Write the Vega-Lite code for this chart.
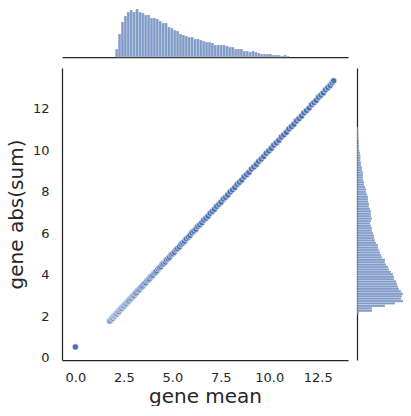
{
  "$schema": "https://vega.github.io/schema/vega-lite/v6.json",
  "padding": {"left": 6, "top": 7, "right": 0, "bottom": 0},
  "config": {
    "view": {"stroke": null},
    "font": "DejaVu Sans",
    "axis": {
      "grid": false,
      "ticks": false,
      "tickSize": 0,
      "domainColor": "#262626",
      "domainWidth": 1.25,
      "labelColor": "#262626",
      "titleColor": "#262626",
      "labelFontSize": 13,
      "titleFontSize": 20,
      "titleFontWeight": "normal",
      "labelPadding": 13
    }
  },
  "columns": 2,
  "align": "each",
  "spacing": {"row": 10, "column": 8},
  "concat": [
    {
      "width": 286,
      "height": 50,
      "data": {"name": "xhist"},
      "mark": {"type": "bar", "orient": "vertical", "fill": "#4c72b0", "fillOpacity": 0.7, "stroke": "#ffffff", "strokeWidth": 0.5, "strokeOpacity": 0.5},
      "encoding": {
        "x": {"field": "lo", "type": "quantitative", "scale": {"domain": [-0.69, 14.06], "nice": false, "zero": false},
              "axis": {"labels": false, "title": null, "domain": true}},
        "x2": {"field": "hi"},
        "y": {"field": "n", "type": "quantitative", "scale": {"domain": [0, 50], "nice": false}, "axis": null},
        "y2": {"datum": 0}
      }
    },
    {
      "width": 50,
      "height": 50,
      "data": {"values": [{}]},
      "mark": {"type": "point", "opacity": 0}
    },
    {
      "width": 286,
      "height": 292,
      "data": {"name": "pts"},
      "mark": {"type": "circle", "size": 40, "fill": "#4c72b0", "fillOpacity": 1, "stroke": "#ffffff", "strokeWidth": 0.6},
      "encoding": {
        "x": {"field": "m", "type": "quantitative", "scale": {"domain": [-0.69, 14.06], "nice": false, "zero": false},
              "axis": {"title": "gene mean", "values": [0, 2.5, 5, 7.5, 10, 12.5], "format": ".1f", "titlePadding": 2, "labelPadding": 11}},
        "y": {"field": "s", "type": "quantitative", "scale": {"domain": [-0.1, 13.97], "nice": false, "zero": false},
              "axis": {"title": "gene abs(sum)", "values": [0, 2, 4, 6, 8, 10, 12], "titlePadding": 6}}
      }
    },
    {
      "width": 50,
      "height": 292,
      "data": {"name": "yhist"},
      "mark": {"type": "bar", "orient": "horizontal", "fill": "#4c72b0", "fillOpacity": 0.7, "stroke": "#ffffff", "strokeWidth": 0.5, "strokeOpacity": 0.5},
      "encoding": {
        "y": {"field": "lo", "type": "quantitative", "scale": {"domain": [-0.1, 13.97], "nice": false, "zero": false},
              "axis": {"labels": false, "title": null, "domain": true}},
        "y2": {"field": "hi"},
        "x": {"field": "n", "type": "quantitative", "scale": {"domain": [0, 50], "nice": false}, "axis": null}
      }
    }
  ],
  "datasets": {
    "pts": [
      {"m": 0.0, "s": 0.53},
      {"m": 1.77, "s": 1.78}, {"m": 1.82, "s": 1.81}, {"m": 1.86, "s": 1.88}, {"m": 1.9, "s": 1.91}, {"m": 1.93, "s": 1.92},
      {"m": 1.97, "s": 1.99}, {"m": 2.0, "s": 2.02}, {"m": 2.04, "s": 2.03}, {"m": 2.07, "s": 2.09}, {"m": 2.11, "s": 2.12},
      {"m": 2.14, "s": 2.13}, {"m": 2.18, "s": 2.2}, {"m": 2.21, "s": 2.22}, {"m": 2.25, "s": 2.24}, {"m": 2.29, "s": 2.31},
      {"m": 2.33, "s": 2.33}, {"m": 2.36, "s": 2.38}, {"m": 2.4, "s": 2.39}, {"m": 2.44, "s": 2.46}, {"m": 2.48, "s": 2.48},
      {"m": 2.52, "s": 2.51}, {"m": 2.56, "s": 2.58}, {"m": 2.6, "s": 2.6}, {"m": 2.64, "s": 2.63}, {"m": 2.68, "s": 2.7},
      {"m": 2.72, "s": 2.72}, {"m": 2.76, "s": 2.75}, {"m": 2.8, "s": 2.82}, {"m": 2.85, "s": 2.85}, {"m": 2.9, "s": 2.89},
      {"m": 2.94, "s": 2.96}, {"m": 2.99, "s": 2.99}, {"m": 3.03, "s": 3.02}, {"m": 3.08, "s": 3.1}, {"m": 3.12, "s": 3.12},
      {"m": 3.17, "s": 3.16}, {"m": 3.22, "s": 3.24}, {"m": 3.27, "s": 3.27}, {"m": 3.32, "s": 3.31}, {"m": 3.37, "s": 3.39},
      {"m": 3.42, "s": 3.42}, {"m": 3.48, "s": 3.47}, {"m": 3.53, "s": 3.55}, {"m": 3.59, "s": 3.59}, {"m": 3.64, "s": 3.63},
      {"m": 3.7, "s": 3.72}, {"m": 3.76, "s": 3.76}, {"m": 3.82, "s": 3.81}, {"m": 3.88, "s": 3.9}, {"m": 3.94, "s": 3.94},
      {"m": 4.0, "s": 3.99}, {"m": 4.07, "s": 4.09}, {"m": 4.13, "s": 4.13}, {"m": 4.2, "s": 4.19}, {"m": 4.27, "s": 4.29},
      {"m": 4.34, "s": 4.34}, {"m": 4.41, "s": 4.4}, {"m": 4.48, "s": 4.5}, {"m": 4.55, "s": 4.55}, {"m": 4.63, "s": 4.62},
      {"m": 4.7, "s": 4.72}, {"m": 4.78, "s": 4.78}, {"m": 4.86, "s": 4.85}, {"m": 4.94, "s": 4.96}, {"m": 5.02, "s": 5.02},
      {"m": 5.1, "s": 5.09}, {"m": 5.19, "s": 5.21}, {"m": 5.27, "s": 5.27}, {"m": 5.36, "s": 5.35}, {"m": 5.45, "s": 5.47},
      {"m": 5.54, "s": 5.54}, {"m": 5.63, "s": 5.62}, {"m": 5.72, "s": 5.74}, {"m": 5.82, "s": 5.82}, {"m": 5.91, "s": 5.9},
      {"m": 6.01, "s": 6.03}, {"m": 6.11, "s": 6.11}, {"m": 6.21, "s": 6.2}, {"m": 6.31, "s": 6.33}, {"m": 6.41, "s": 6.41},
      {"m": 6.52, "s": 6.51}, {"m": 6.62, "s": 6.64}, {"m": 6.73, "s": 6.73}, {"m": 6.84, "s": 6.83}, {"m": 6.95, "s": 6.97},
      {"m": 7.06, "s": 7.06}, {"m": 7.17, "s": 7.16}, {"m": 7.28, "s": 7.3}, {"m": 7.4, "s": 7.4}, {"m": 7.51, "s": 7.5},
      {"m": 7.63, "s": 7.65}, {"m": 7.74, "s": 7.74}, {"m": 7.86, "s": 7.85}, {"m": 7.98, "s": 8.0}, {"m": 8.1, "s": 8.1},
      {"m": 8.22, "s": 8.21}, {"m": 8.34, "s": 8.36}, {"m": 8.46, "s": 8.46}, {"m": 8.58, "s": 8.57}, {"m": 8.7, "s": 8.72},
      {"m": 8.83, "s": 8.83}, {"m": 8.95, "s": 8.94}, {"m": 9.08, "s": 9.1}, {"m": 9.2, "s": 9.2}, {"m": 9.33, "s": 9.32},
      {"m": 9.45, "s": 9.47}, {"m": 9.58, "s": 9.58}, {"m": 9.71, "s": 9.7}, {"m": 9.84, "s": 9.86}, {"m": 9.97, "s": 9.97},
      {"m": 10.1, "s": 10.09}, {"m": 10.23, "s": 10.25}, {"m": 10.36, "s": 10.36}, {"m": 10.49, "s": 10.48}, {"m": 10.62, "s": 10.64},
      {"m": 10.75, "s": 10.75}, {"m": 10.88, "s": 10.87}, {"m": 11.01, "s": 11.03}, {"m": 11.14, "s": 11.14}, {"m": 11.27, "s": 11.26},
      {"m": 11.4, "s": 11.42}, {"m": 11.53, "s": 11.53}, {"m": 11.66, "s": 11.65}, {"m": 11.79, "s": 11.81}, {"m": 11.92, "s": 11.92},
      {"m": 12.05, "s": 12.04}, {"m": 12.18, "s": 12.2}, {"m": 12.3, "s": 12.3}, {"m": 12.42, "s": 12.41}, {"m": 12.54, "s": 12.56},
      {"m": 12.66, "s": 12.66}, {"m": 12.78, "s": 12.77}, {"m": 12.9, "s": 12.92}, {"m": 13.02, "s": 13.02}, {"m": 13.14, "s": 13.13},
      {"m": 13.24, "s": 13.26}, {"m": 13.32, "s": 13.35}
    ],
    "xhist": [
      {"lo": 1.89, "hi": 2.045, "n": 8}, {"lo": 2.045, "hi": 2.2, "n": 23}, {"lo": 2.2, "hi": 2.355, "n": 35},
      {"lo": 2.355, "hi": 2.51, "n": 41}, {"lo": 2.51, "hi": 2.665, "n": 45}, {"lo": 2.665, "hi": 2.82, "n": 47},
      {"lo": 2.82, "hi": 2.975, "n": 45}, {"lo": 2.975, "hi": 3.13, "n": 48}, {"lo": 3.13, "hi": 3.285, "n": 45},
      {"lo": 3.285, "hi": 3.44, "n": 44}, {"lo": 3.44, "hi": 3.595, "n": 42}, {"lo": 3.595, "hi": 3.75, "n": 42},
      {"lo": 3.75, "hi": 3.905, "n": 39}, {"lo": 3.905, "hi": 4.06, "n": 39}, {"lo": 4.06, "hi": 4.215, "n": 38},
      {"lo": 4.215, "hi": 4.37, "n": 36}, {"lo": 4.37, "hi": 4.525, "n": 34}, {"lo": 4.525, "hi": 4.68, "n": 34},
      {"lo": 4.68, "hi": 4.835, "n": 30}, {"lo": 4.835, "hi": 4.99, "n": 29}, {"lo": 4.99, "hi": 5.145, "n": 27},
      {"lo": 5.145, "hi": 5.3, "n": 26}, {"lo": 5.3, "hi": 5.455, "n": 23}, {"lo": 5.455, "hi": 5.61, "n": 22},
      {"lo": 5.61, "hi": 5.765, "n": 21}, {"lo": 5.765, "hi": 5.92, "n": 20}, {"lo": 5.92, "hi": 6.075, "n": 20},
      {"lo": 6.075, "hi": 6.23, "n": 18}, {"lo": 6.23, "hi": 6.385, "n": 18}, {"lo": 6.385, "hi": 6.54, "n": 17},
      {"lo": 6.54, "hi": 6.695, "n": 16}, {"lo": 6.695, "hi": 6.85, "n": 15}, {"lo": 6.85, "hi": 7.005, "n": 15},
      {"lo": 7.005, "hi": 7.16, "n": 14}, {"lo": 7.16, "hi": 7.315, "n": 12}, {"lo": 7.315, "hi": 7.47, "n": 12},
      {"lo": 7.47, "hi": 7.625, "n": 12}, {"lo": 7.625, "hi": 7.78, "n": 12}, {"lo": 7.78, "hi": 7.935, "n": 11},
      {"lo": 7.935, "hi": 8.09, "n": 10}, {"lo": 8.09, "hi": 8.245, "n": 10}, {"lo": 8.245, "hi": 8.4, "n": 8},
      {"lo": 8.4, "hi": 8.555, "n": 8}, {"lo": 8.555, "hi": 8.71, "n": 8}, {"lo": 8.71, "hi": 8.865, "n": 6},
      {"lo": 8.865, "hi": 9.02, "n": 6}, {"lo": 9.02, "hi": 9.175, "n": 5}, {"lo": 9.175, "hi": 9.33, "n": 6},
      {"lo": 9.33, "hi": 9.485, "n": 5}, {"lo": 9.485, "hi": 9.64, "n": 4}, {"lo": 9.64, "hi": 9.795, "n": 3},
      {"lo": 9.795, "hi": 9.95, "n": 3}, {"lo": 9.95, "hi": 10.105, "n": 3}, {"lo": 10.105, "hi": 10.26, "n": 3},
      {"lo": 10.26, "hi": 10.415, "n": 2}, {"lo": 10.415, "hi": 10.57, "n": 2}, {"lo": 10.57, "hi": 10.725, "n": 2},
      {"lo": 10.725, "hi": 10.88, "n": 1}, {"lo": 10.88, "hi": 11.035, "n": 2}, {"lo": 11.035, "hi": 11.19, "n": 1}
    ],
    "yhist": [
      {"lo": 1.93, "hi": 2.051, "n": 2}, {"lo": 2.051, "hi": 2.172, "n": 15}, {"lo": 2.172, "hi": 2.293, "n": 15},
      {"lo": 2.293, "hi": 2.414, "n": 28}, {"lo": 2.414, "hi": 2.535, "n": 38}, {"lo": 2.535, "hi": 2.656, "n": 46},
      {"lo": 2.656, "hi": 2.777, "n": 44}, {"lo": 2.777, "hi": 2.898, "n": 45}, {"lo": 2.898, "hi": 3.019, "n": 46},
      {"lo": 3.019, "hi": 3.14, "n": 44}, {"lo": 3.14, "hi": 3.261, "n": 42}, {"lo": 3.261, "hi": 3.382, "n": 41},
      {"lo": 3.382, "hi": 3.503, "n": 40}, {"lo": 3.503, "hi": 3.624, "n": 39}, {"lo": 3.624, "hi": 3.745, "n": 37},
      {"lo": 3.745, "hi": 3.866, "n": 37}, {"lo": 3.866, "hi": 3.987, "n": 36}, {"lo": 3.987, "hi": 4.108, "n": 34},
      {"lo": 4.108, "hi": 4.229, "n": 32}, {"lo": 4.229, "hi": 4.35, "n": 31}, {"lo": 4.35, "hi": 4.471, "n": 29},
      {"lo": 4.471, "hi": 4.592, "n": 28}, {"lo": 4.592, "hi": 4.713, "n": 28}, {"lo": 4.713, "hi": 4.834, "n": 25},
      {"lo": 4.834, "hi": 4.955, "n": 24}, {"lo": 4.955, "hi": 5.076, "n": 23}, {"lo": 5.076, "hi": 5.197, "n": 22},
      {"lo": 5.197, "hi": 5.318, "n": 21}, {"lo": 5.318, "hi": 5.439, "n": 21}, {"lo": 5.439, "hi": 5.56, "n": 19},
      {"lo": 5.56, "hi": 5.681, "n": 18}, {"lo": 5.681, "hi": 5.802, "n": 17}, {"lo": 5.802, "hi": 5.923, "n": 17},
      {"lo": 5.923, "hi": 6.044, "n": 16}, {"lo": 6.044, "hi": 6.165, "n": 15}, {"lo": 6.165, "hi": 6.286, "n": 15},
      {"lo": 6.286, "hi": 6.407, "n": 14}, {"lo": 6.407, "hi": 6.528, "n": 13}, {"lo": 6.528, "hi": 6.649, "n": 14},
      {"lo": 6.649, "hi": 6.77, "n": 15}, {"lo": 6.77, "hi": 6.891, "n": 14}, {"lo": 6.891, "hi": 7.012, "n": 14},
      {"lo": 7.012, "hi": 7.133, "n": 14}, {"lo": 7.133, "hi": 7.254, "n": 13}, {"lo": 7.254, "hi": 7.375, "n": 12},
      {"lo": 7.375, "hi": 7.496, "n": 12}, {"lo": 7.496, "hi": 7.617, "n": 11}, {"lo": 7.617, "hi": 7.738, "n": 11},
      {"lo": 7.738, "hi": 7.859, "n": 11}, {"lo": 7.859, "hi": 7.98, "n": 10}, {"lo": 7.98, "hi": 8.101, "n": 9},
      {"lo": 8.101, "hi": 8.222, "n": 9}, {"lo": 8.222, "hi": 8.343, "n": 8}, {"lo": 8.343, "hi": 8.464, "n": 7},
      {"lo": 8.464, "hi": 8.585, "n": 7}, {"lo": 8.585, "hi": 8.706, "n": 6}, {"lo": 8.706, "hi": 8.827, "n": 6},
      {"lo": 8.827, "hi": 8.948, "n": 6}, {"lo": 8.948, "hi": 9.069, "n": 6}, {"lo": 9.069, "hi": 9.19, "n": 5},
      {"lo": 9.19, "hi": 9.311, "n": 5}, {"lo": 9.311, "hi": 9.432, "n": 4}, {"lo": 9.432, "hi": 9.553, "n": 4},
      {"lo": 9.553, "hi": 9.674, "n": 3.5}, {"lo": 9.674, "hi": 9.795, "n": 3.5}, {"lo": 9.795, "hi": 9.916, "n": 3.5},
      {"lo": 9.916, "hi": 10.037, "n": 3}, {"lo": 10.037, "hi": 10.158, "n": 2.3}, {"lo": 10.158, "hi": 10.279, "n": 2},
      {"lo": 10.279, "hi": 10.4, "n": 2}, {"lo": 10.4, "hi": 10.521, "n": 2}, {"lo": 10.521, "hi": 10.642, "n": 2},
      {"lo": 10.642, "hi": 10.763, "n": 1.5}, {"lo": 10.763, "hi": 10.884, "n": 1.3}, {"lo": 10.884, "hi": 11.005, "n": 1.3},
      {"lo": 11.005, "hi": 11.126, "n": 1.3}, {"lo": 11.126, "hi": 11.247, "n": 1}
    ]
  }
}
